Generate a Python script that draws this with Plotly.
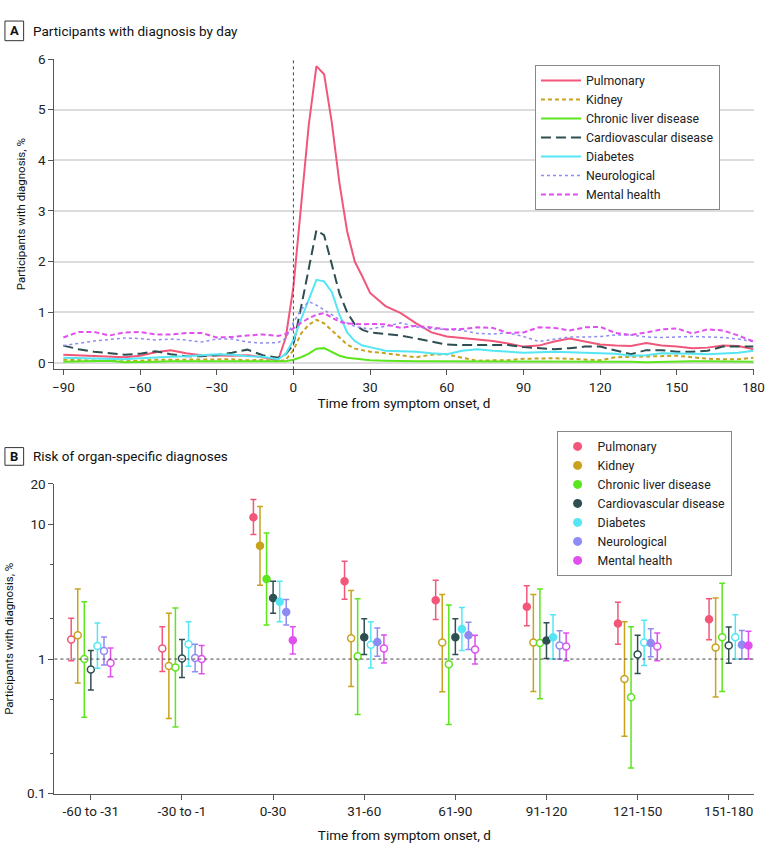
import plotly.graph_objects as go

W, H = 780, 854
FONT = "Roboto, Arial, sans-serif"

# ---------------- Panel A data ----------------
days = [-90, -84, -78, -72, -66, -60, -54, -48, -42, -36, -30, -24, -18, -12, -6,
        -3, 0, 3, 6, 9, 12, 15, 18, 21, 24, 27, 30,
        36, 42, 48, 54, 60, 66, 72, 78, 84, 90, 96, 102, 108, 114, 120, 126, 132,
        138, 144, 150, 156, 162, 168, 174, 180]

pulmonary_day = [0.16, 0.15, 0.13, 0.12, 0.11, 0.14, 0.21, 0.25, 0.19, 0.15, 0.14, 0.14, 0.15, 0.11, 0.05,
                 0.50, 1.50, 3.05, 4.70, 5.86, 5.70, 4.75, 3.55, 2.6, 2.0, 1.7, 1.38,
                 1.12, 0.98, 0.78, 0.60, 0.52, 0.49, 0.47, 0.43, 0.38, 0.32, 0.34, 0.42, 0.48, 0.42,
                 0.36, 0.34, 0.33, 0.39, 0.34, 0.32, 0.29, 0.30, 0.34, 0.33, 0.27]
kidney_day = [0.06, 0.05, 0.04, 0.03, 0.03, 0.04, 0.06, 0.06, 0.06, 0.06, 0.07, 0.07, 0.05, 0.06, 0.03,
              0.06, 0.25, 0.58, 0.75, 0.85, 0.78, 0.64, 0.49, 0.36, 0.28, 0.25, 0.22,
              0.19, 0.15, 0.11, 0.16, 0.17, 0.10, 0.04, 0.05, 0.05, 0.08, 0.09, 0.09, 0.08, 0.07,
              0.05, 0.11, 0.12, 0.12, 0.13, 0.14, 0.11, 0.08, 0.07, 0.07, 0.10]
liver_day = [0.02, 0.03, 0.04, 0.04, 0.01, 0.01, 0.02, 0.03, 0.03, 0.03, 0.03, 0.03, 0.03, 0.03, 0.02,
             0.03, 0.06, 0.11, 0.18, 0.28, 0.29, 0.21, 0.14, 0.10, 0.08, 0.06, 0.05,
             0.04, 0.03, 0.03, 0.03, 0.03, 0.03, 0.02, 0.03, 0.03, 0.03, 0.03, 0.03, 0.02, 0.02,
             0.03, 0.03, 0.02, 0.01, 0.02, 0.03, 0.03, 0.03, 0.03, 0.03, 0.02]
cardio_day = [0.34, 0.27, 0.22, 0.19, 0.16, 0.18, 0.23, 0.17, 0.13, 0.13, 0.15, 0.20, 0.26, 0.15, 0.10,
              0.17, 0.36, 1.10, 1.85, 2.62, 2.52, 1.95, 1.37, 1.00, 0.76, 0.65, 0.60,
              0.57, 0.54, 0.48, 0.42, 0.36, 0.35, 0.35, 0.35, 0.35, 0.31, 0.29, 0.27, 0.29, 0.32,
              0.32, 0.25, 0.17, 0.25, 0.25, 0.22, 0.22, 0.24, 0.32, 0.32, 0.32]
diabetes_day = [0.10, 0.09, 0.08, 0.07, 0.07, 0.09, 0.11, 0.12, 0.13, 0.15, 0.17, 0.16, 0.13, 0.12, 0.07,
                0.18, 0.45, 0.86, 1.26, 1.64, 1.61, 1.40, 0.95, 0.60, 0.43, 0.34, 0.31,
                0.24, 0.23, 0.22, 0.19, 0.17, 0.24, 0.27, 0.24, 0.22, 0.20, 0.21, 0.22, 0.21, 0.20,
                0.19, 0.18, 0.14, 0.15, 0.19, 0.19, 0.18, 0.17, 0.18, 0.20, 0.24]
neuro_day = [0.34, 0.39, 0.43, 0.46, 0.49, 0.48, 0.45, 0.47, 0.45, 0.41, 0.47, 0.47, 0.41, 0.39, 0.40,
             0.48, 0.80, 1.05, 1.21, 1.14, 1.05, 0.95, 0.85, 0.78, 0.72, 0.69, 0.67,
             0.72, 0.79, 0.71, 0.67, 0.66, 0.64, 0.58, 0.57, 0.59, 0.52, 0.42, 0.46, 0.51, 0.51,
             0.52, 0.55, 0.55, 0.51, 0.50, 0.51, 0.52, 0.51, 0.50, 0.47, 0.42]
mental_day = [0.50, 0.61, 0.61, 0.54, 0.60, 0.61, 0.56, 0.56, 0.59, 0.59, 0.50, 0.51, 0.54, 0.56, 0.53,
              0.57, 0.68, 0.79, 0.88, 0.95, 0.98, 0.90, 0.81, 0.78, 0.77, 0.76, 0.77,
              0.76, 0.69, 0.73, 0.70, 0.66, 0.67, 0.70, 0.69, 0.59, 0.60, 0.70, 0.69, 0.64, 0.70,
              0.71, 0.59, 0.55, 0.60, 0.66, 0.68, 0.58, 0.66, 0.64, 0.54, 0.42]

# ---------------- Panel B data ----------------
periods = ["-60 to -31", "-30 to -1", "0-30", "31-60", "61-90", "91-120", "121-150", "151-180"]

pulm_est = [1.40, 1.20, 11.3, 3.78, 2.73, 2.45, 1.84, 1.98]
pulm_lo = [0.97, 0.81, 8.41, 2.78, 1.97, 1.77, 1.29, 1.39]
pulm_hi = [2.01, 1.74, 15.3, 5.32, 3.85, 3.50, 2.64, 2.81]
pulm_sig = [0, 0, 1, 1, 1, 1, 1, 1]

kid_est = [1.50, 0.89, 6.95, 1.43, 1.33, 1.33, 0.71, 1.22]
kid_lo = [0.665, 0.362, 3.54, 0.625, 0.572, 0.575, 0.267, 0.523]
kid_hi = [3.32, 2.19, 13.6, 3.23, 3.02, 3.02, 1.89, 2.84]
kid_sig = [0, 0, 1, 0, 0, 0, 0, 0]

liv_est = [1.00, 0.865, 3.93, 1.05, 0.914, 1.315, 0.52, 1.45]
liv_lo = [0.37, 0.313, 1.79, 0.387, 0.327, 0.508, 0.155, 0.575]
liv_hi = [2.66, 2.40, 8.65, 2.81, 2.52, 3.31, 1.74, 3.66]
liv_sig = [0, 0, 1, 0, 0, 0, 0, 0]

car_est = [0.836, 1.01, 2.84, 1.45, 1.45, 1.375, 1.08, 1.26]
car_lo = [0.588, 0.731, 2.19, 1.08, 1.08, 1.01, 0.782, 0.93]
car_hi = [1.16, 1.40, 3.78, 1.99, 1.99, 1.86, 1.50, 1.73]
car_sig = [0, 0, 1, 1, 1, 1, 0, 0]

dia_est = [1.25, 1.29, 2.67, 1.28, 1.67, 1.45, 1.33, 1.45]
dia_lo = [0.855, 0.884, 1.89, 0.86, 1.16, 1.00, 0.894, 1.00]
dia_hi = [1.85, 1.89, 3.78, 1.89, 2.42, 2.13, 1.94, 2.13]
dia_sig = [0, 0, 1, 0, 1, 1, 0, 0]

neu_est = [1.15, 1.02, 2.24, 1.34, 1.50, 1.26, 1.315, 1.28]
neu_lo = [0.904, 0.804, 1.79, 1.05, 1.18, 1.00, 1.04, 1.00]
neu_hi = [1.46, 1.29, 2.77, 1.70, 1.88, 1.62, 1.68, 1.63]
neu_sig = [0, 0, 1, 1, 1, 0, 1, 1]

men_est = [0.935, 1.00, 1.38, 1.20, 1.18, 1.24, 1.24, 1.26]
men_lo = [0.74, 0.778, 1.09, 0.935, 0.92, 0.97, 0.97, 1.00]
men_hi = [1.21, 1.26, 1.74, 1.51, 1.50, 1.56, 1.56, 1.61]
men_sig = [0, 0, 1, 0, 0, 0, 0, 1]

names = ["Pulmonary", "Kidney", "Chronic liver disease", "Cardiovascular disease",
         "Diabetes", "Neurological", "Mental health"]
colors = ["#F2577A", "#C9A21E", "#5CE61E", "#2E4F52", "#55E6F5", "#8E8CF2", "#E050EE"]
dashes = ["solid", "4px,3px", "solid", "10px,5px", "solid", "dot", "5px,3px"]
widths = [2, 2, 2, 2, 2, 1.5, 2]

day_series = [pulmonary_day, kidney_day, liver_day, cardio_day, diabetes_day, neuro_day, mental_day]
b_series = [
    (pulm_est, pulm_lo, pulm_hi, pulm_sig),
    (kid_est, kid_lo, kid_hi, kid_sig),
    (liv_est, liv_lo, liv_hi, liv_sig),
    (car_est, car_lo, car_hi, car_sig),
    (dia_est, dia_lo, dia_hi, dia_sig),
    (neu_est, neu_lo, neu_hi, neu_sig),
    (men_est, men_lo, men_hi, men_sig),
]


def px_x(p):
    return p / W


def px_y(p):
    return 1 - p / H


fig = go.Figure()

# Panel A lines
for name, col, dash, w, vals in zip(names, colors, dashes, widths, day_series):
    fig.add_trace(go.Scatter(
        x=days, y=vals, mode="lines", name=name,
        line=dict(color=col, dash=dash, width=w),
        xaxis="x", yaxis="y", legend="legend", hoverinfo="skip"))

# Panel B points with CIs
step = 0.072
for k, (name, col, (est, lo, hi, sig)) in enumerate(zip(names, colors, b_series)):
    off = (k - 3) * step
    xs = [i + off for i in range(len(periods))]
    fig.add_trace(go.Scatter(
        x=xs, y=est, mode="markers", name=name, showlegend=False,
        marker=dict(symbol="circle", size=7,
                    color=[col if s else "white" for s in sig],
                    line=dict(color=col, width=1.5)),
        error_y=dict(type="data", symmetric=False,
                     array=[h - e for h, e in zip(hi, est)],
                     arrayminus=[e - l for e, l in zip(est, lo)],
                     color=col, thickness=1.5, width=3),
        xaxis="x2", yaxis="y2", hoverinfo="skip"))
    fig.add_trace(go.Scatter(
        x=[None], y=[None], mode="markers", name=name,
        marker=dict(symbol="circle", size=9, color=col),
        xaxis="x2", yaxis="y2", legend="legend2"))

tick_font = dict(family=FONT, size=13.5, color="#222")
xtitle_font = dict(family=FONT, size=13.5, color="#111")
ytitle_font = dict(family=FONT, size=11.5, color="#111")

fig.update_layout(
    width=W, height=H,
    margin=dict(l=0, r=0, t=0, b=0),
    paper_bgcolor="white", plot_bgcolor="white",
    font=dict(family=FONT, size=12, color="#222"),
    showlegend=True,
    xaxis=dict(domain=[px_x(53.3), px_x(764.3)], range=[-93.5, 180],
               tickvals=list(range(-90, 181, 30)), ticks="outside", ticklen=5,
               tickcolor="#555", showline=True, linecolor="#555", linewidth=1,
               showgrid=False, zeroline=False, tickfont=tick_font,
               title=dict(text="Time from symptom onset, d", font=xtitle_font, standoff=4),
               anchor="y"),
    yaxis=dict(domain=[px_y(368.3), px_y(52)], range=[-0.13, 6],
               tickvals=list(range(0, 7)), ticks="outside", ticklen=5,
               tickcolor="#555", showline=True, linecolor="#555", linewidth=1,
               showgrid=True, gridcolor="#dcdcdc", gridwidth=1.5, zeroline=False,
               tickfont=tick_font,
               title=dict(text="Participants with diagnosis, %", font=ytitle_font, standoff=10),
               anchor="x"),
    xaxis2=dict(domain=[px_x(53.3), px_x(765)], range=[-0.4, 7.28],
                tickvals=list(range(len(periods))), ticktext=periods,
                ticks="outside", ticklen=5, tickcolor="#555",
                showline=True, linecolor="#555", linewidth=1,
                showgrid=False, zeroline=False, tickfont=tick_font,
                title=dict(text="Time from symptom onset, d", font=xtitle_font, standoff=12),
                anchor="y2"),
    yaxis2=dict(domain=[px_y(800.7), px_y(485)], type="log", range=[-1, 1.30103],
                tickvals=[0.1, 1, 10, 20], ticktext=["0.1", "1", "10", "20"],
                ticks="outside", ticklen=5, tickcolor="#555",
                minor=dict(tickvals=[0.2, 0.5, 2, 5], ticks="outside", ticklen=3,
                           tickcolor="#555", showgrid=False),
                showline=True, linecolor="#555", linewidth=1,
                showgrid=False, zeroline=False, tickfont=tick_font,
                title=dict(text="Participants with diagnosis, %", font=ytitle_font, standoff=10),
                anchor="x2"),
    legend=dict(x=px_x(542), y=px_y(58), xanchor="left", yanchor="top",
                bgcolor="white", bordercolor="#888", borderwidth=1,
                font=dict(family=FONT, size=12.3, color="#222"), itemwidth=40,
                tracegroupgap=0),
    legend2=dict(x=px_x(564), y=px_y(431), xanchor="left", yanchor="top",
                 bgcolor="white", bordercolor="#888", borderwidth=1,
                 font=dict(family=FONT, size=12.3, color="#222"), itemwidth=30,
                 tracegroupgap=0),
)

# Reference lines
fig.add_shape(type="line", xref="x", yref="y domain", x0=0, x1=0, y0=0, y1=1,
              line=dict(color="#444", width=1, dash="dot"))
fig.add_shape(type="line", xref="x2 domain", yref="y2", x0=0, x1=1, y0=1, y1=1,
              line=dict(color="#444", width=1, dash="dot"))

# Panel labels
for letter, top, bottom, text in [("A", 13.3, 33.3, "Participants with diagnosis by day"),
                                  ("B", 448, 466, "Risk of organ-specific diagnoses")]:
    fig.add_shape(type="rect", xref="paper", yref="paper",
                  x0=px_x(3), x1=px_x(22), y0=px_y(bottom), y1=px_y(top),
                  line=dict(color="#333", width=1), fillcolor="white")
    fig.add_annotation(xref="paper", yref="paper", x=px_x(12.5), y=px_y((top + bottom) / 2),
                       text="<b>%s</b>" % letter, showarrow=False,
                       font=dict(family=FONT, size=13, color="#111"),
                       xanchor="center", yanchor="middle")
    fig.add_annotation(xref="paper", yref="paper", x=px_x(29), y=px_y((top + bottom) / 2),
                       text=text, showarrow=False,
                       font=dict(family=FONT, size=13.5, color="#111"),
                       xanchor="left", yanchor="middle")

pin_page = (
    "var d=document.getElementById('{plot_id}');"
    "d.style.position='fixed';d.style.top='0px';d.style.left='0px';"
    "document.documentElement.style.overflow='hidden';"
    "document.body.style.overflow='hidden';"
    "document.body.style.margin='0';document.body.style.padding='0';"
)
fig.write_html("out.html", config={"displayModeBar": False}, post_script=pin_page)
